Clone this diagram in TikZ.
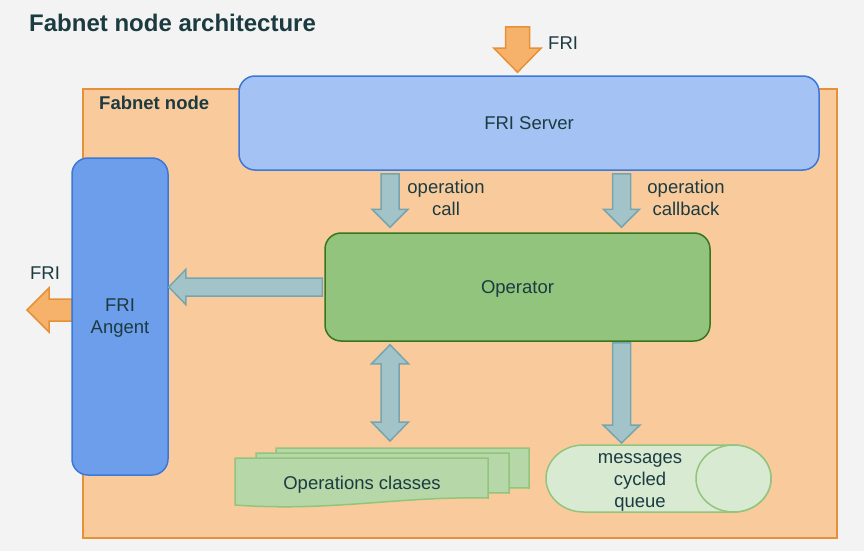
\documentclass[tikz,border=0pt]{standalone}
\usepackage{fontspec}
\setmainfont{Liberation Sans}
\usetikzlibrary{calc}

\definecolor{bgcol}{HTML}{F3F3F3}
\definecolor{txtcol}{HTML}{1C3B41}
\definecolor{nodefill}{HTML}{F9CB9C}
\definecolor{nodeline}{HTML}{E69138}
\definecolor{serverfill}{HTML}{A4C2F4}
\definecolor{agentfill}{HTML}{6D9EEB}
\definecolor{blueline}{HTML}{3C78D8}
\definecolor{opfill}{HTML}{93C47D}
\definecolor{opline}{HTML}{38761D}
\definecolor{classfill}{HTML}{B6D7A8}
\definecolor{queuefill}{HTML}{D9EAD3}
\definecolor{flowfill}{HTML}{A2C4C9}
\definecolor{flowline}{HTML}{76A5AF}
\definecolor{frifill}{HTML}{F6B26B}

\tikzset{
  txt/.style={text=txtcol, font=\fontsize{18.5}{22}\selectfont, align=center, inner sep=0pt},
  heading/.style={txt, font=\fontsize{#1}{28}\selectfont\bfseries, anchor=base west},
  block/.style={txt, draw, line width=1.5pt, rounded corners=16pt, text depth=0pt},
  flow/.style={fill=flowfill, draw=flowline, line width=1.5pt},
  fri/.style={fill=frifill, draw=nodeline, line width=1.5pt},
  sheet/.style={fill=classfill, draw=opfill, line width=1.5pt},
  tube/.style={fill=queuefill, draw=opfill, line width=1.5pt},
}

% fat arrow: style, shaft half width, head half width, head length, from, to
\newcommand{\fatarrow}[6]{%
  \coordinate (fa-s) at #5;
  \coordinate (fa-t) at #6;
  \coordinate (fa-h) at ($(fa-t)!#4!(fa-s)$);
  \draw[#1] ($(fa-s)!#2!90:(fa-t)$) -- ($(fa-h)!#2!90:(fa-t)$) -- ($(fa-h)!#3!90:(fa-t)$)
    -- (fa-t) -- ($(fa-h)!#3!-90:(fa-t)$) -- ($(fa-h)!#2!-90:(fa-t)$)
    -- ($(fa-s)!#2!-90:(fa-t)$) -- cycle;
}
% same with a head at both ends
\newcommand{\fatdblarrow}[6]{%
  \coordinate (fa-s) at #5;
  \coordinate (fa-t) at #6;
  \coordinate (fa-h) at ($(fa-t)!#4!(fa-s)$);
  \coordinate (fa-g) at ($(fa-s)!#4!(fa-t)$);
  \draw[#1] (fa-s) -- ($(fa-g)!#3!90:(fa-t)$) -- ($(fa-g)!#2!90:(fa-t)$)
    -- ($(fa-h)!#2!90:(fa-t)$) -- ($(fa-h)!#3!90:(fa-t)$) -- (fa-t)
    -- ($(fa-h)!#3!-90:(fa-t)$) -- ($(fa-h)!#2!-90:(fa-t)$)
    -- ($(fa-g)!#2!-90:(fa-t)$) -- ($(fa-g)!#3!-90:(fa-t)$) -- cycle;
}

\begin{document}
\begin{tikzpicture}[x=1pt,y=-1pt]
  % Background and title
  \fill[bgcol] (0,0) rectangle (864,551);
  \useasboundingbox (0,0) rectangle (864,551);
  \node[heading=24] (title) at (29,32) {Fabnet node architecture};
  % The node frame
  \node[draw=nodeline, fill=nodefill, line width=1.5pt, minimum width=754pt, minimum height=449pt] (fabnet) at (460,313.5) {};
  \node[heading=18.5] (fabnetlabel) at (99,109) {Fabnet node};
  % Server and incoming FRI
  \node[block, fill=serverfill, draw=blueline, minimum width=580pt, minimum height=94pt] (server) at (529,123) {FRI Server};
  \coordinate (friin) at (517.5,27);
  \fatarrow{fri}{12pt}{23.5pt}{24pt}{(friin)}{($(server.north -| friin)+(0,-3)$)}
  \node[txt, anchor=west] (friinlabel) at (548,43) {FRI};
  % Agent and outgoing FRI
  \coordinate (friout) at (27,310);
  \fatarrow{fri}{11pt}{22pt}{22pt}{(72,310)}{(friout)}
  \node[txt] (frioutlabel) at (45,273) {FRI};
  \node[block, fill=agentfill, draw=blueline, minimum width=96pt, minimum height=317pt] (angent) at (120,316.5) {FRI\\Angent};
  % Operator
  \node[block, fill=opfill, draw=opline, minimum width=385pt, minimum height=108pt] (operator) at (517.5,287) {Operator};
  % Operations classes, three sheets
  \foreach \dx/\dy in {41/-10, 21/-5, 0/0}
    \draw[sheet, shift={(\dx,\dy)}] (235,458) -- (488,458) -- (488,498)
      .. controls (400,496) and (330,512) .. (235,505) -- cycle;
  \node[txt] (ops) at (362,484.5) {Operations classes};
  % Messages queue, a lying cylinder
  \draw[tube] (583.5,445) arc[start angle=-90, end angle=-270, x radius=37.5, y radius=33.5]
    -- (733.5,512) arc[start angle=90, end angle=-90, x radius=37.5, y radius=33.5] -- cycle;
  \draw[tube] (733.5,478.5) ellipse [x radius=37.5, y radius=33.5];
  \coordinate (queuetop) at (621.5,445);
  \node[txt] (queue) at (640,482) {messages\\cycled\\queue};
  % Arrows between the blocks
  \coordinate (callx) at (390,0);
  \coordinate (backx) at (621.5,0);
  \coordinate (opsin) at (390,441);
  \fatarrow{flow}{9pt}{18pt}{18pt}{($(server.south -| callx)+(0,3)$)}{($(operator.north -| callx)+(0,-5)$)}
  \fatarrow{flow}{9pt}{18pt}{18pt}{($(server.south -| backx)+(0,3)$)}{($(operator.north -| backx)+(0,-5)$)}
  \node[txt] (calllabel) at (446,197.5) {operation\\call};
  \node[txt] (backlabel) at (686,197.5) {operation\\callback};
  \fatarrow{flow}{9pt}{17.5pt}{17pt}{($(operator.west)+(-2,0)$)}{(angent.east |- operator.west)}
  \fatdblarrow{flow}{9pt}{18.5pt}{19pt}{($(operator.south -| opsin)+(0,3)$)}{(opsin)}
  \fatarrow{flow}{9pt}{18.5pt}{18pt}{($(operator.south -| backx)+(0,1)$)}{($(queuetop)+(0,-2)$)}
\end{tikzpicture}
\end{document}
